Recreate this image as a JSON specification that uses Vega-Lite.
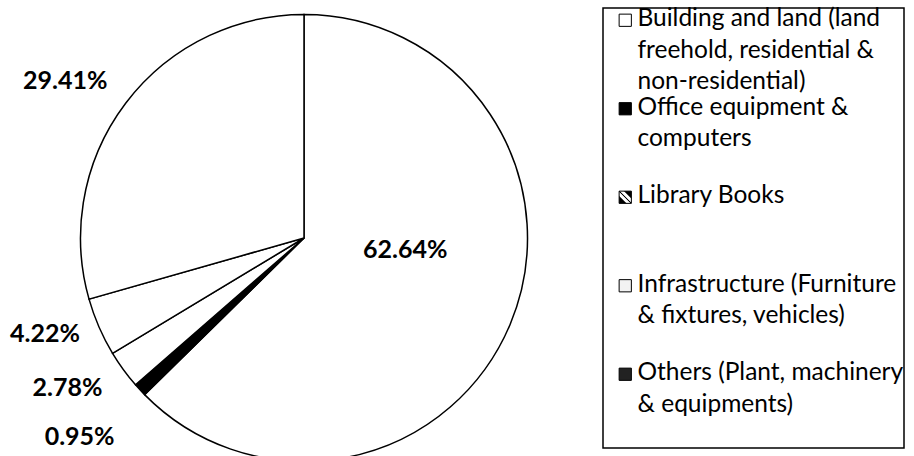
{
  "$schema": "https://vega.github.io/schema/vega-lite/v6.json",
  "width": 608,
  "height": 476,
  "padding": 0,
  "autosize": {"type": "pad"},
  "background": "white",
  "config": {"view": {"stroke": null}, "font": "Lato"},
  "data": {
    "values": [
      {"category": "Building and land (land freehold, residential & non-residential)", "share": 62.64, "order": 1},
      {"category": "Office equipment & computers", "share": 0.95, "order": 2},
      {"category": "Library Books", "share": 2.78, "order": 3},
      {"category": "Infrastructure (Furniture & fixtures, vehicles)", "share": 4.22, "order": 4},
      {"category": "Others (Plant, machinery & equipments)", "share": 29.41, "order": 5}
    ]
  },
  "transform": [{"calculate": "format(datum.share, '.2f') + '%'", "as": "label"}],
  "encoding": {
    "theta": {"field": "share", "type": "quantitative", "stack": true},
    "order": {"field": "order", "type": "quantitative"}
  },
  "layer": [
    {
      "mark": {"type": "arc", "outerRadius": 223.5},
      "encoding": {
        "color": {
          "field": "category",
          "type": "nominal",
          "sort": null,
          "scale": {
            "domain": [
              "Building and land (land freehold, residential & non-residential)",
              "Office equipment & computers",
              "Library Books",
              "Infrastructure (Furniture & fixtures, vehicles)",
              "Others (Plant, machinery & equipments)"
            ],
            "range": [
              "white",
              "black",
              {"expr": "{gradient: 'linear', x1: 0, y1: 1, x2: 1, y2: 0, stops: [{offset: 0, color: 'black'}, {offset: 0.28, color: 'black'}, {offset: 0.33, color: 'white'}, {offset: 0.45, color: 'white'}, {offset: 0.5, color: 'black'}, {offset: 0.55, color: 'white'}, {offset: 0.67, color: 'white'}, {offset: 0.72, color: 'black'}, {offset: 1, color: 'black'}]}"},
              "#f2f2f2",
              "#222222"
            ]
          },
          "legend": {
            "orient": "none",
            "legendX": 603,
            "legendY": 8,
            "title": null,
            "symbolType": "square",
            "symbolSize": 150,
            "symbolStrokeColor": "black",
            "symbolStrokeWidth": 1,
            "symbolOffset": 10,
            "labelOffset": 0,
            "labelFont": "Lato",
            "labelFontSize": 24.5,
            "labelColor": "black",
            "labelBaseline": "top",
            "labelLimit": 500,
            "rowPadding": 0.5,
            "padding": 0,
            "strokeColor": "black",
            "labelExpr": "datum.value === 'Building and land (land freehold, residential & non-residential)' ? ['Building and land (land', 'freehold, residential &', 'non-residential)'] : datum.value === 'Office equipment & computers' ? ['Office equipment &', 'computers', ''] : datum.value === 'Library Books' ? ['Library Books', '', ''] : datum.value === 'Infrastructure (Furniture & fixtures, vehicles)' ? ['Infrastructure (Furniture\u00a0\u00a0\u00a0\u00a0\u00a0\u00a0', '& fixtures, vehicles)', ''] : ['Others (Plant, machinery\u00a0\u00a0', '& equipments)', '']",
            "encode": {
              "labels": {"update": {"lineHeight": {"value": 31.5}, "dy": {"value": -13}}},
              "legend": {"update": {"strokeWidth": {"value": 1.5}}},
              "symbols": {"update": {"stroke": {"value": "black"}, "strokeWidth": {"value": 1}}}
            }
          }
        }
      }
    },
    {
      "mark": {"type": "arc", "outerRadius": 223.5, "stroke": "black", "strokeWidth": 1.5},
      "encoding": {
        "fill": {"condition": {"test": "datum.order === 2", "value": "black"}, "value": "white"}
      }
    },
    {
      "mark": {"type": "text", "radius": 102, "thetaOffset": -0.279, "font": "Lato", "fontWeight": "bold", "fontSize": 25, "color": "black"},
      "encoding": {
        "text": {"condition": {"test": "datum.order === 1", "field": "label", "type": "nominal"}, "value": ""}
      }
    },
    {
      "mark": {"type": "text", "radius": 300, "thetaOffset": 0.021, "font": "Lato", "fontWeight": "bold", "fontSize": 25, "color": "black"},
      "encoding": {
        "text": {"condition": {"test": "datum.order === 2", "field": "label", "type": "nominal"}, "value": ""}
      }
    },
    {
      "mark": {"type": "text", "radius": 280, "thetaOffset": 0.065, "font": "Lato", "fontWeight": "bold", "fontSize": 25, "color": "black"},
      "encoding": {
        "text": {"condition": {"test": "datum.order === 3", "field": "label", "type": "nominal"}, "value": ""}
      }
    },
    {
      "mark": {"type": "text", "radius": 276, "thetaOffset": 0.056, "font": "Lato", "fontWeight": "bold", "fontSize": 25, "color": "black"},
      "encoding": {
        "text": {"condition": {"test": "datum.order === 4", "field": "label", "type": "nominal"}, "value": ""}
      }
    },
    {
      "mark": {"type": "text", "radius": 286, "thetaOffset": -0.064, "font": "Lato", "fontWeight": "bold", "fontSize": 25, "color": "black"},
      "encoding": {
        "text": {"condition": {"test": "datum.order === 5", "field": "label", "type": "nominal"}, "value": ""}
      }
    }
  ]
}
